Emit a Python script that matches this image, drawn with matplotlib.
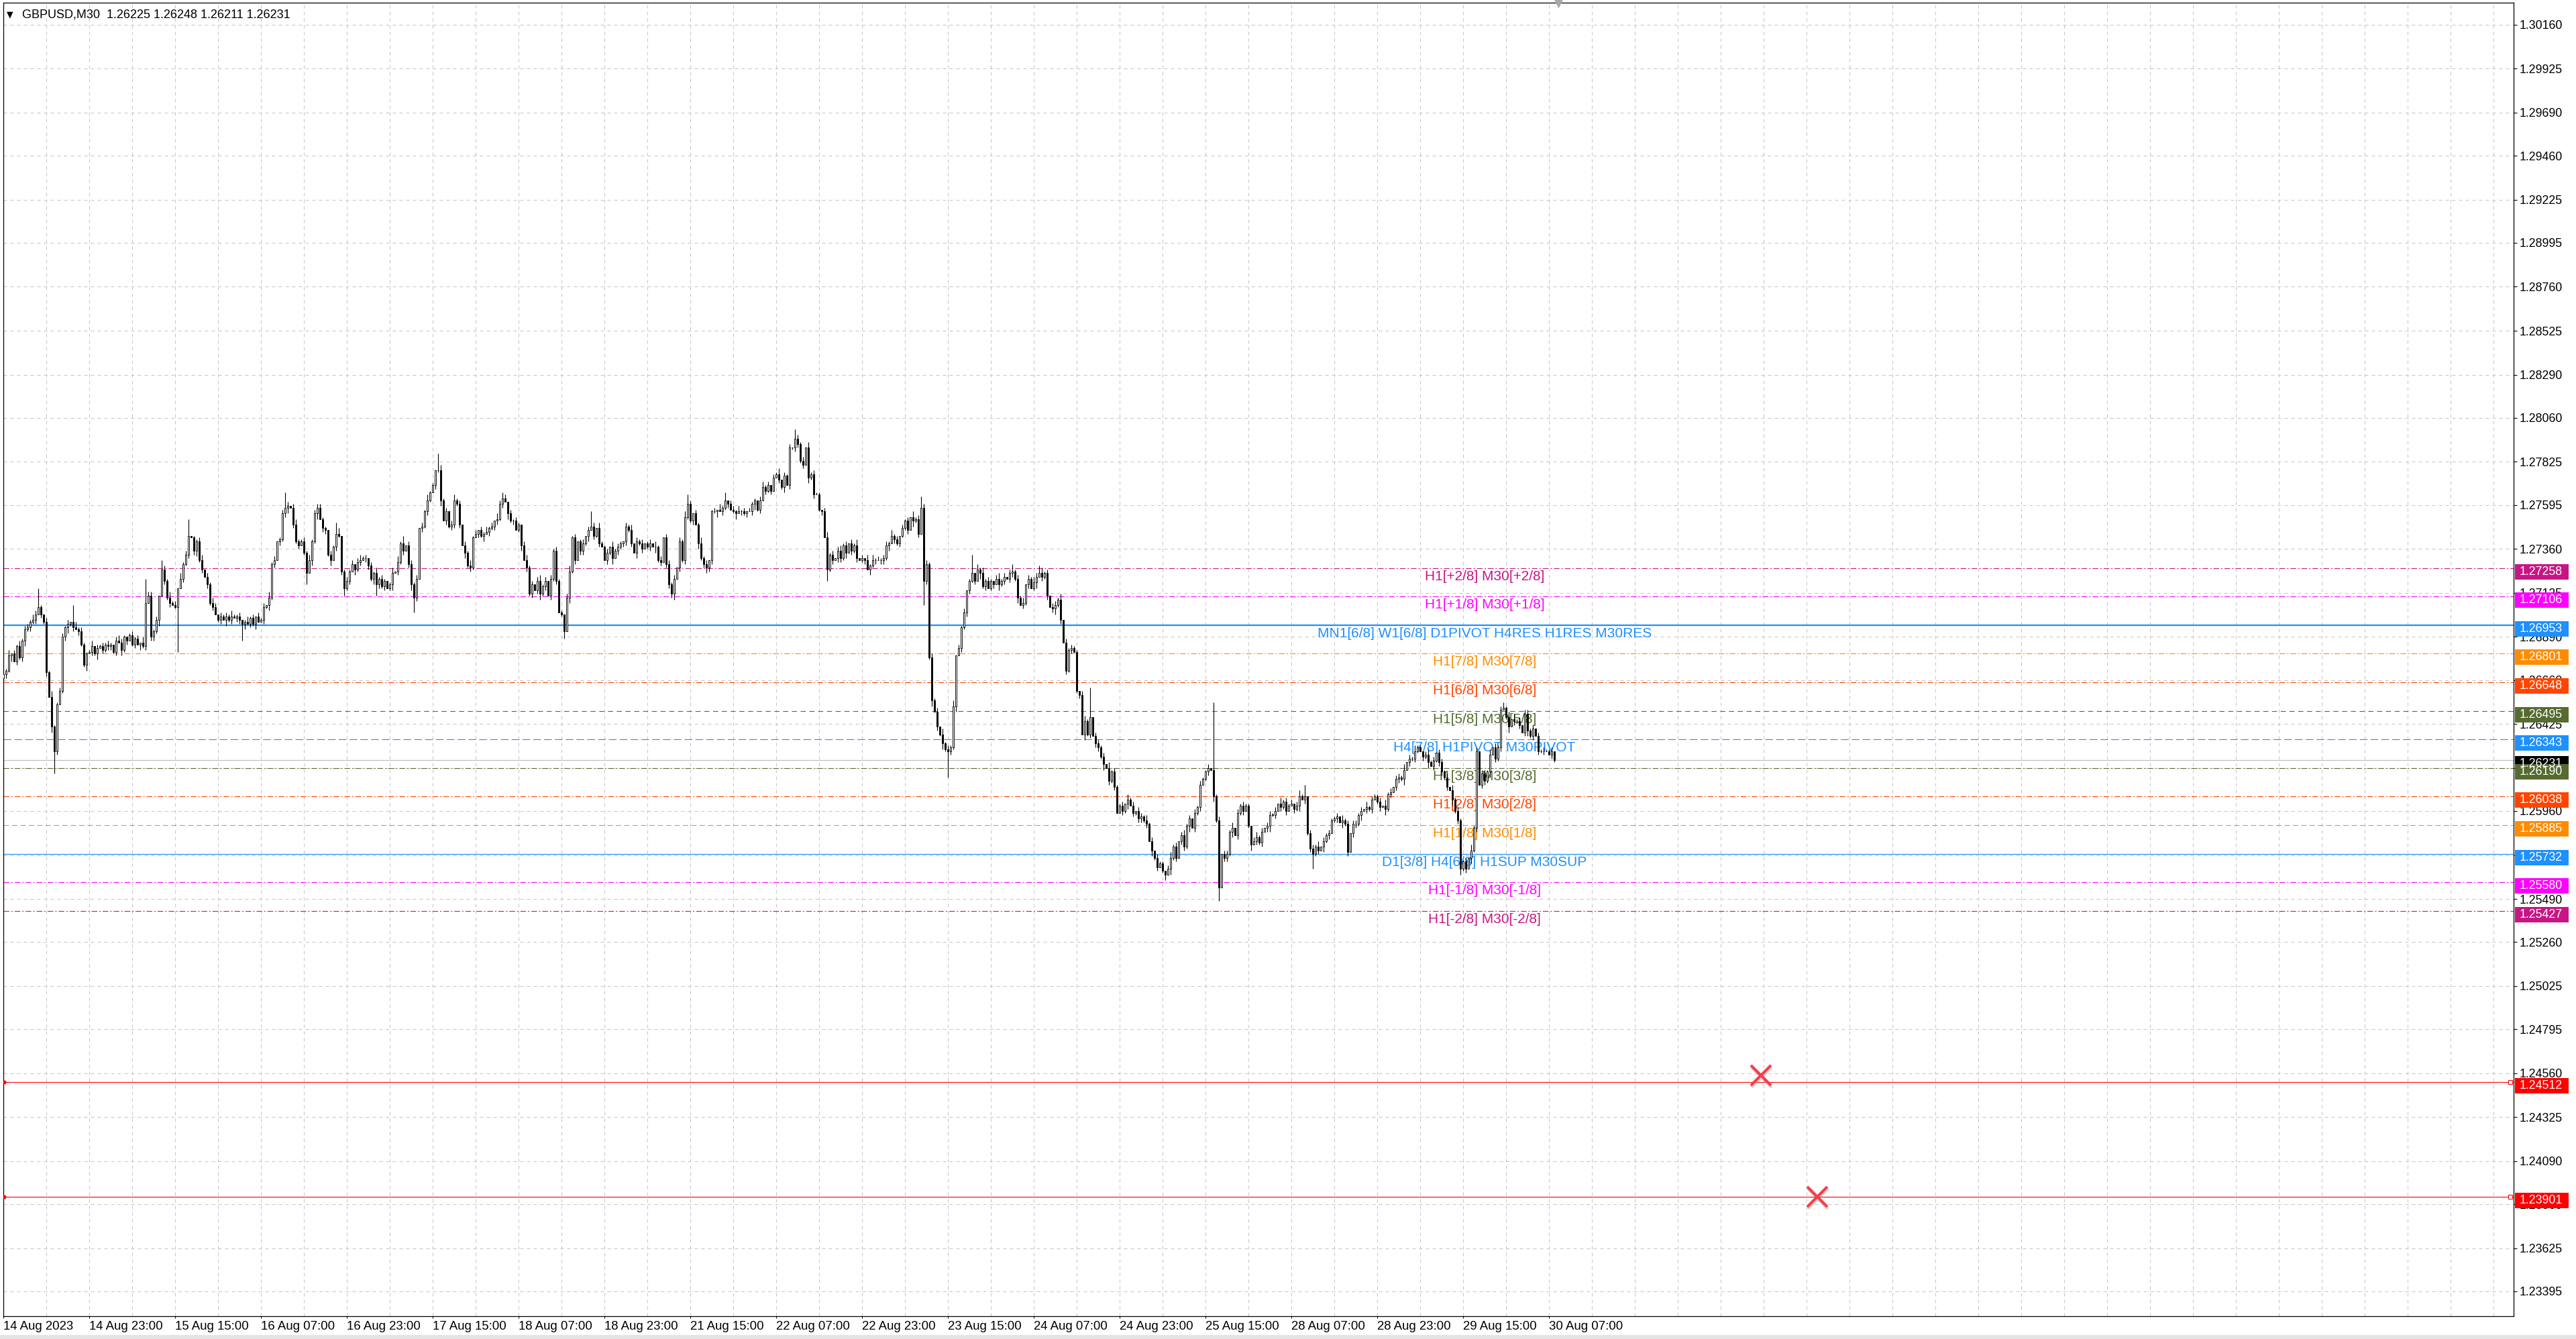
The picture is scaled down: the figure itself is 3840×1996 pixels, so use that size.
import matplotlib
matplotlib.use("Agg")
import matplotlib.pyplot as plt
import matplotlib.transforms as mtransforms
from matplotlib.patches import Rectangle

plt.rcParams["lines.scale_dashes"] = False
plt.rcParams["font.family"] = ["Liberation Sans", "DejaVu Sans"]

# ---------------- data (GBPUSD, M30) ----------------
first_open = 1.2667
closes = [
    1.2669, 1.2671, 1.2679, 1.2680, 1.2676, 1.2684, 1.2678, 1.2687, 1.2693, 1.2694,
    1.2697, 1.2698, 1.2701, 1.2705, 1.2701, 1.2697, 1.2670, 1.2657, 1.2641, 1.2628,
    1.2653, 1.2660, 1.2689, 1.2694, 1.2696, 1.2697, 1.2694, 1.2693, 1.2692, 1.2685,
    1.2674, 1.2680, 1.2681, 1.2684, 1.2680, 1.2683, 1.2684, 1.2682, 1.2685, 1.2684,
    1.2685, 1.2681, 1.2687, 1.2686, 1.2682, 1.2689, 1.2687, 1.2690, 1.2685, 1.2688,
    1.2685, 1.2686, 1.2684, 1.2707, 1.2711, 1.2689, 1.2692, 1.2698, 1.2711, 1.2725,
    1.2719, 1.2710, 1.2707, 1.2706, 1.2705, 1.2715, 1.2720, 1.2728, 1.2733, 1.2743,
    1.2742, 1.2735, 1.2740, 1.2730, 1.2725, 1.2721, 1.2717, 1.2707, 1.2705, 1.2701,
    1.2698, 1.2700, 1.2698, 1.2700, 1.2698, 1.2700, 1.2699, 1.2700, 1.2698, 1.2696,
    1.2697, 1.2696, 1.2699, 1.2696, 1.2700, 1.2697, 1.2698, 1.2705, 1.2706, 1.2710,
    1.2728, 1.2730, 1.2740, 1.2741, 1.2755, 1.2758, 1.2759, 1.2758, 1.2749, 1.2740,
    1.2738, 1.2740, 1.2734, 1.2723, 1.2730, 1.2740, 1.2755, 1.2758, 1.2752, 1.2747,
    1.2746, 1.2733, 1.2730, 1.2737, 1.2744, 1.2743, 1.2724, 1.2715, 1.2719, 1.2724,
    1.2728, 1.2725, 1.2729, 1.2730, 1.2731, 1.2731, 1.2727, 1.2720, 1.2723, 1.2717,
    1.2720, 1.2716, 1.2719, 1.2715, 1.2717, 1.2723, 1.2724, 1.2729, 1.2739, 1.2735,
    1.2738, 1.2728, 1.2717, 1.2710, 1.2720, 1.2747, 1.2748, 1.2756, 1.2762, 1.2766,
    1.2770, 1.2778, 1.2778, 1.2762, 1.2751, 1.2756, 1.2748, 1.2749, 1.2762, 1.2760,
    1.2749, 1.2738, 1.2734, 1.2727, 1.2726, 1.2742, 1.2744, 1.2746, 1.2743, 1.2744,
    1.2745, 1.2747, 1.2748, 1.2751, 1.2752, 1.2760, 1.2763, 1.2761, 1.2755, 1.2751,
    1.2751, 1.2746, 1.2749, 1.2738, 1.2730, 1.2726, 1.2712, 1.2717, 1.2714, 1.2719,
    1.2712, 1.2716, 1.2719, 1.2711, 1.2720, 1.2735, 1.2719, 1.2702, 1.2701, 1.2692,
    1.2710, 1.2724, 1.2742, 1.2730, 1.2740, 1.2735, 1.2739, 1.2743, 1.2746, 1.2748,
    1.2743, 1.2747, 1.2739, 1.2737, 1.2730, 1.2734, 1.2737, 1.2731, 1.2735, 1.2737,
    1.2739, 1.2740, 1.2748, 1.2746, 1.2739, 1.2734, 1.2740, 1.2739, 1.2736, 1.2739,
    1.2737, 1.2739, 1.2737, 1.2737, 1.2730, 1.2729, 1.2742, 1.2728, 1.2717, 1.2712,
    1.2720, 1.2726, 1.2740, 1.2730, 1.2753, 1.2760, 1.2751, 1.2755, 1.2749, 1.2739,
    1.2731, 1.2728, 1.2726, 1.2730, 1.2756, 1.2756, 1.2757, 1.2756, 1.2758, 1.2762,
    1.2760, 1.2757, 1.2756, 1.2755, 1.2756, 1.2756, 1.2755, 1.2756, 1.2756, 1.2760,
    1.2762, 1.2757, 1.2762, 1.2769, 1.2767, 1.2770, 1.2767, 1.2774, 1.2776, 1.2773,
    1.2769, 1.2775, 1.2770, 1.2790, 1.2790, 1.2795, 1.2792, 1.2783, 1.2781, 1.2790,
    1.2774, 1.2776, 1.2765, 1.2765, 1.2757, 1.2756, 1.2742, 1.2725, 1.2733, 1.2730,
    1.2731, 1.2735, 1.2731, 1.2738, 1.2734, 1.2739, 1.2735, 1.2738, 1.2731, 1.2730,
    1.2731, 1.2730, 1.2725, 1.2727, 1.2730, 1.2730, 1.2730, 1.2730, 1.2731, 1.2738,
    1.2739, 1.2743, 1.2741, 1.2739, 1.2743, 1.2747, 1.2751, 1.2746, 1.2753, 1.2751,
    1.2752, 1.2744, 1.2758, 1.2719, 1.2728, 1.2678, 1.2655, 1.2649, 1.2641, 1.2637,
    1.2632, 1.2629, 1.2628, 1.2630, 1.2652, 1.2679, 1.2683, 1.2694, 1.2702, 1.2714,
    1.2719, 1.2723, 1.2719, 1.2725, 1.2723, 1.2716, 1.2719, 1.2715, 1.2719, 1.2717,
    1.2720, 1.2717, 1.2719, 1.2721, 1.2720, 1.2723, 1.2724, 1.2720, 1.2710, 1.2706,
    1.2707, 1.2717, 1.2720, 1.2715, 1.2718, 1.2721, 1.2723, 1.2721, 1.2723, 1.2711,
    1.2705, 1.2704, 1.2706, 1.2709, 1.2698, 1.2686, 1.2671, 1.2682, 1.2683, 1.2681,
    1.2660, 1.2658, 1.2637, 1.2644, 1.2637, 1.2646, 1.2636, 1.2632, 1.2630, 1.2625,
    1.2621, 1.2619, 1.2612, 1.2617, 1.2609, 1.2595, 1.2599, 1.2596, 1.2600, 1.2602,
    1.2599, 1.2595, 1.2596, 1.2592, 1.2593, 1.2591, 1.2589, 1.2580, 1.2575, 1.2571,
    1.2566, 1.2568, 1.2564, 1.2562, 1.2565, 1.2571, 1.2577, 1.2571, 1.2580, 1.2583,
    1.2577, 1.2588, 1.2592, 1.2587, 1.2595, 1.2598, 1.2610, 1.2613, 1.2617, 1.2619,
    1.2618, 1.2604, 1.2591, 1.2555, 1.2573, 1.2571, 1.2573, 1.2585, 1.2587, 1.2583,
    1.2595, 1.2599, 1.2596, 1.2599, 1.2588, 1.2578, 1.2580, 1.2582, 1.2579, 1.2585,
    1.2587, 1.2588, 1.2594, 1.2594, 1.2596, 1.2600, 1.2598, 1.2601, 1.2596, 1.2599,
    1.2600, 1.2597, 1.2599, 1.2604, 1.2602, 1.2604, 1.2584, 1.2576, 1.2573, 1.2577,
    1.2575, 1.2577, 1.2580, 1.2583, 1.2584, 1.2591, 1.2592, 1.2593, 1.2590, 1.2591,
    1.2589, 1.2574, 1.2584, 1.2589, 1.2589, 1.2594, 1.2596, 1.2597, 1.2598, 1.2597,
    1.2602, 1.2604, 1.2601, 1.2598, 1.2599, 1.2597, 1.2605, 1.2606, 1.2609, 1.2613,
    1.2614, 1.2613, 1.2618, 1.2622, 1.2624, 1.2624, 1.2628, 1.2630, 1.2628, 1.2625,
    1.2626, 1.2622, 1.2620, 1.2623, 1.2627, 1.2622, 1.2617, 1.2614, 1.2609, 1.2607,
    1.2602, 1.2596, 1.2591, 1.2565, 1.2569, 1.2565, 1.2571, 1.2575, 1.2587, 1.2628,
    1.2610, 1.2616, 1.2612, 1.2617, 1.2626, 1.2630, 1.2624, 1.2630, 1.2650, 1.2651,
    1.2646, 1.2641, 1.2645, 1.2644, 1.2644, 1.2642, 1.2638, 1.2648, 1.2639, 1.2636,
    1.2640, 1.2636, 1.2628, 1.2628, 1.2628, 1.2628, 1.2626, 1.2628, 1.26231,
]

# short wicks in pips (0.0001), one digit per bar, 32 bars per row
up_wick = (
    "21302131" "22132110" "21311221" "20231211"
    "13021212" "10232101" "21203122" "12012131"
    "20312101" "12302132" "02121311" "20131202"
    "12031201" "21202311" "21312021" "10212301"
    "21202312" "02131210" "13031202" "21202131"
    "10231202" "11202131" "20213120" "32120212"
    "10231202" "31202121" "10231201" "20212031"
    "12031210" "21302120" "12031202" "21202131"
    "20213120" "12031202" "21312021" "10231202"
    "13021202" "21203121" "10231202" "31202130"
    "20313121" "22131202" "12031212" "21212031"
    "21302120" "12031312" "10231202" "21213021"
    "32031202" "21302121" "10231202" "21203121"
    "12031202" "21312021" "10231202" "31202121"
    "12031202" "21302121" "10231202" "21203121"
    "20231202" "21302121" "12031202" "21203121"
    "12031202" "21302131" "10231202" "21203121"
    "12031202" "21302121" "13031202" "21202121"
    "120"
)
dn_wick = (
    "12130212" "31212021" "20312012" "31202113"
    "02130212" "21203120" "12031202" "21302120"
    "13021202" "31202120" "12031202" "21302130"
    "02131202" "12302120" "12031302" "21302120"
    "12031202" "21302120" "13021202" "31202121"
    "02130212" "21203121" "02130212" "21203120"
    "13021202" "31202120" "12031202" "21302120"
    "02130212" "21203120" "12031202" "21302121"
    "12031202" "21302120" "13021202" "31202120"
    "02130212" "21203120" "12031202" "21302120"
    "12031202" "21302121" "12031202" "21302131"
    "02130212" "21203120" "12031202" "21302120"
    "13021202" "31202120" "12031202" "21302120"
    "02130212" "21203120" "12031202" "21302120"
    "12031202" "21302120" "13021202" "31202120"
    "02130212" "21203120" "12031202" "21302120"
    "12031202" "21302121" "02130212" "21203120"
    "12031202" "21302120" "13021202" "31202120"
    "021"
)

# long wicks
long_high_bar = [13, 26, 53, 59, 69, 105, 117, 124, 149, 162, 168, 186, 219, 255,
                 269, 295, 342, 361, 376, 386, 405, 451, 485, 559]
long_high = [1.2715, 1.2706, 1.2720, 1.2730, 1.2752, 1.2766, 1.2760, 1.2750, 1.2743,
             1.2787, 1.2765, 1.2766, 1.2756, 1.2765, 1.2766, 1.2800, 1.2764, 1.2733,
             1.2728, 1.2727, 1.2662, 1.2654, 1.2610, 1.2654]
long_low_bar = [19, 65, 89, 113, 127, 139, 153, 209, 249, 262, 307, 343, 352, 433,
                453, 488, 501, 543]
long_low = [1.2616, 1.2681, 1.2687, 1.2717, 1.2711, 1.2711, 1.2702, 1.2688, 1.2710,
            1.2723, 1.2719, 1.2706, 1.2614, 1.2559, 1.2548, 1.2565, 1.2573, 1.2562]

time_labels = ["14 Aug 2023", "14 Aug 23:00", "15 Aug 15:00", "16 Aug 07:00",
               "16 Aug 23:00", "17 Aug 15:00", "18 Aug 07:00", "18 Aug 23:00",
               "21 Aug 15:00", "22 Aug 07:00", "22 Aug 23:00", "23 Aug 15:00",
               "24 Aug 07:00", "24 Aug 23:00", "25 Aug 15:00", "28 Aug 07:00",
               "28 Aug 23:00", "29 Aug 15:00", "30 Aug 07:00"]

price_ticks = [1.30160, 1.29925, 1.29690, 1.29460, 1.29225, 1.28995, 1.28760,
               1.28525, 1.28290, 1.28060, 1.27825, 1.27595, 1.27360, 1.27125,
               1.26890, 1.26660, 1.26425, 1.26190, 1.25960, 1.25725, 1.25490,
               1.25260, 1.25025, 1.24795, 1.24560, 1.24325, 1.24090, 1.23860,
               1.23625, 1.23395]

level_price = [1.27258, 1.27106, 1.26953, 1.26801, 1.26648, 1.26495, 1.26343,
               1.26190, 1.26038, 1.25885, 1.25732, 1.25580, 1.25427]
level_text = ["H1[+2/8] M30[+2/8]", "H1[+1/8] M30[+1/8]",
              "MN1[6/8] W1[6/8] D1PIVOT H4RES H1RES M30RES",
              "H1[7/8] M30[7/8]", "H1[6/8] M30[6/8]", "H1[5/8] M30[5/8]",
              "H4[7/8] H1PIVOT M30PIVOT", "H1[3/8] M30[3/8]", "H1[2/8] M30[2/8]",
              "H1[1/8] M30[1/8]", "D1[3/8] H4[6/8] H1SUP M30SUP",
              "H1[-1/8] M30[-1/8]", "H1[-2/8] M30[-2/8]"]

current_price = 1.26231
stop_price = [1.24512, 1.23901]
cross_bar = [655, 676]
cross_price = [1.24548, 1.23900]

# ---------------- styles ----------------
VIOLET, MAGENTA, BLUE = "#C71585", "#FF00FF", "#1E90FF"
ORANGE, ORRED, OLIVE = "#FF8C00", "#FF4500", "#556B2F"
DASHDOT = (3.0, 1.1, 0.7, 1.1)
level_color = [VIOLET, MAGENTA, BLUE, ORANGE, ORRED, OLIVE, BLUE,
               OLIVE, ORRED, ORANGE, BLUE, MAGENTA, VIOLET]
level_dash = [DASHDOT, DASHDOT, None, DASHDOT, DASHDOT, (2.7, 2.0), (4.1, 1.7),
              DASHDOT, DASHDOT, (2.8, 1.7), None, DASHDOT, DASHDOT]
level_lw = [0.4, 0.4, 0.8, 0.4, 0.4, 0.4, 0.4, 0.4, 0.4, 0.4, 0.45, 0.4, 0.4]
TEXT_BAR = 552

W, H, DPI = 3840, 1996, 200
PX_L, PX_R, PX_T, PX_B = 5, 3747, 4, 1962
YMIN, YMAX = 1.23262, 1.30277
XMAX = 935.5
pp = (YMAX - YMIN) / (PX_B - PX_T)      # price per pixel
ax_w = PX_R - PX_L

fig = plt.figure(figsize=(W / DPI, H / DPI), dpi=DPI)
fig.patch.set_facecolor("white")
ax = fig.add_axes([PX_L / W, 1 - PX_B / H, ax_w / W, (PX_B - PX_T) / H])
ax.set_xlim(0, XMAX)
ax.set_ylim(YMIN, YMAX)
for s in ax.spines.values():
    s.set_linewidth(0.45)
    s.set_color("black")

fig.patches.append(Rectangle((0, 0), 1, 6 / H, transform=fig.transFigure,
                             facecolor="#E4E4E4", edgecolor="none"))

# grid
for v in price_ticks:
    ax.axhline(v, color="#C4C4C4", lw=0.36, dashes=(1.8, 1.8), zorder=0.5)
for b in range(16, int(XMAX), 16):
    ax.axvline(b, color="#C4C4C4", lw=0.36, dashes=(1.8, 1.8), zorder=0.5)

# levels
for v, c, d, lw in zip(level_price, level_color, level_dash, level_lw):
    if d is None:
        ax.axhline(v, color=c, lw=lw, zorder=1)
    else:
        ax.axhline(v, color=c, lw=lw, dashes=d, zorder=1)
ax.axhline(current_price, color="#C0C0C0", lw=0.45, zorder=1)
for v in stop_price:
    ax.axhline(v, color="#FF0000", lw=0.4, zorder=1)
    ax.plot([XMAX - 1.2], [v], marker="s", ms=2.2, mfc="white", mec="#FF0000",
            mew=0.4, zorder=4, clip_on=False)
    ax.plot([0.3], [v], marker="o", ms=1.2, color="#FF0000", zorder=4)

for v, t, c in zip(level_price, level_text, level_color):
    ax.text(TEXT_BAR, v - 12.5 * pp, t, color=c, fontsize=7.5, ha="center",
            va="center", family=["Liberation Sans", "DejaVu Sans"], zorder=2)

# candles
n = len(closes)
opens = [first_open] + closes[:-1]
highs, lows = [], []
for i in range(n):
    o, c = opens[i], closes[i]
    highs.append(max(o, c) + int(up_wick[i]) * 0.0001)
    lows.append(min(o, c) - int(dn_wick[i]) * 0.0001)
for b, v in zip(long_high_bar, long_high):
    highs[b] = max(highs[b], v)
for b, v in zip(long_low_bar, long_low):
    lows[b] = min(lows[b], v)

xs = list(range(n))
ax.vlines(xs, lows, highs, color="black", lw=0.4, zorder=3)
bottoms = [min(o, c) for o, c in zip(opens, closes)]
heights = [max(abs(c - o), 0.000004) for o, c in zip(opens, closes)]
fills = ["white" if c >= o else "black" for o, c in zip(opens, closes)]
ax.bar(xs, heights, bottom=bottoms, width=0.66, color=fills, edgecolor="black",
       linewidth=0.33, zorder=3.5)

# stop crosses with a soft shadow
shadow = ax.transData + mtransforms.ScaledTranslation(1.5 / DPI, -3 / DPI,
                                                      fig.dpi_scale_trans)
ax.plot(cross_bar, cross_price, ls="none", marker="x", ms=11, mew=1.6,
        color="#888888", alpha=0.35, transform=shadow, zorder=5)
ax.plot(cross_bar, cross_price, ls="none", marker="x", ms=11, mew=1.5,
        color="#F2404C", zorder=6)

# chart shift marker at the top
ax.plot([579.5], [YMAX], marker="v", ms=3.5, color="#A8A8A8", clip_on=False,
        zorder=6)

# axes ticks
ax.set_xticks(range(0, 32 * len(time_labels), 32))
ax.set_xticklabels(time_labels, ha="left")
ax.tick_params(axis="x", length=1.2, width=0.4, pad=1.2, labelsize=6.7)
ax.yaxis.tick_right()
ax.set_yticks(price_ticks)
ax.set_yticklabels([f"{v:.5f}" for v in price_ticks])
ax.tick_params(axis="y", length=1.8, width=0.4, pad=1.4, labelsize=6.4)

# price tags on the right scale
blend = mtransforms.blended_transform_factory(ax.transAxes, ax.transData)
tag_price = level_price[:7] + [current_price] + level_price[7:] + stop_price
tag_color = level_color[:7] + ["black"] + level_color[7:] + ["#FF0000", "#FF0000"]
for v, c in zip(tag_price, tag_color):
    ax.add_patch(Rectangle((1 + 2 / ax_w, v - 17 * pp), 80 / ax_w, 23 * pp,
                           transform=blend, facecolor=c, edgecolor="none",
                           clip_on=False, zorder=10))
    ax.text(1 + 9 / ax_w, v - 5.5 * pp, f"{v:.5f}", transform=blend,
            color="white", fontsize=6.4, va="center", ha="left",
            clip_on=False, zorder=11)

# header
fig.text(10 / W, 1 - 22 / H, "\u25bc", fontsize=4.5, family="DejaVu Sans",
         va="center", ha="left")
fig.text(33 / W, 1 - 22 / H, "GBPUSD,M30  1.26225 1.26248 1.26211 1.26231",
         fontsize=6.5, va="center", ha="left")

fig.savefig("out.png", dpi=DPI)
